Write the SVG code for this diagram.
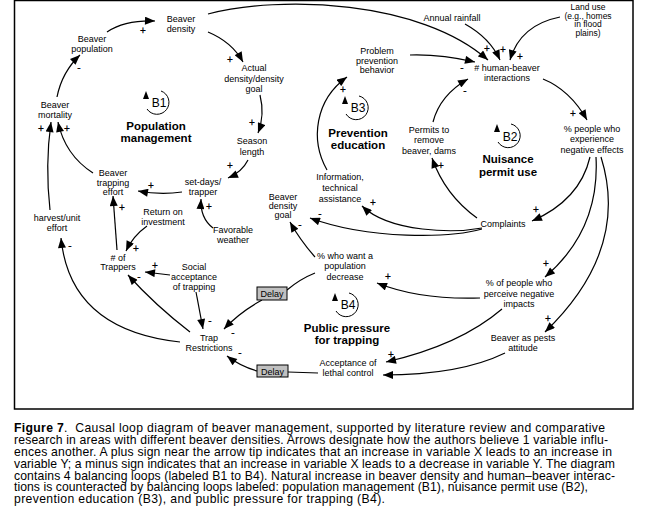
<svg xmlns="http://www.w3.org/2000/svg" width="663" height="526" viewBox="0 0 663 526">
<style>
text{font-family:"Liberation Sans",Arial,sans-serif;fill:#000}
.n{font-size:9px;text-anchor:middle}
.n8{font-size:8.5px;text-anchor:middle}
.s{font-size:10px;text-anchor:middle;stroke:#000;stroke-width:0.25}
.lp{font-size:11.5px;font-weight:bold;text-anchor:middle}
.b{font-size:12px;text-anchor:middle}
.cap{font-size:12.2px}
.c{fill:none;stroke:#000;stroke-width:1.2}
.lc{fill:none;stroke:#000;stroke-width:1}
.dl{fill:#c0c0c0;stroke:#000;stroke-width:1}
</style>
<defs>
<marker id="ah" viewBox="0 0 10 8" refX="10" refY="4" markerWidth="11" markerHeight="8" orient="auto" markerUnits="userSpaceOnUse">
<path d="M0,0 L10,4 L0,8 z" fill="#000"/>
</marker>
</defs>
<rect width="663" height="526" fill="#fff"/>
<rect x="14.5" y="0.5" width="618.5" height="408.5" fill="none" stroke="#000" stroke-width="1.5"/>

<g id="connectors">
<path class="c" marker-end="url(#ah)" d="M107,32 Q125,20 155,21"/>
<path class="c" marker-end="url(#ah)" d="M57,97 Q62,72 80,55"/>
<path class="c" marker-end="url(#ah)" d="M208,32 Q232,42 243,62"/>
<path class="c" marker-end="url(#ah)" d="M260,95 Q265,115 258,133"/>
<path class="c" marker-end="url(#ah)" d="M248,160 Q242,172 228,178"/>
<path class="c" marker-end="url(#ah)" d="M182,192 Q160,195 138,191"/>
<path class="c" marker-end="url(#ah)" d="M93,173 Q65,155 58,122"/>
<path class="c" marker-end="url(#ah)" d="M50,210 Q45,165 51,122"/>
<path class="c" marker-end="url(#ah)" d="M180,342 Q70,330 61,238"/>
<path class="c" marker-end="url(#ah)" d="M117,250 L113,196"/>
<path class="c" marker-end="url(#ah)" d="M147,226 Q133,236 126,251"/>
<path class="c" marker-end="url(#ah)" d="M213,228 Q200,218 201,199"/>
<path class="c" marker-end="url(#ah)" d="M170,275 L145,272"/>
<path class="c" marker-end="url(#ah)" d="M196,292 L203,329"/>
<path class="c" marker-end="url(#ah)" d="M190,332 Q155,305 128,275"/>
<path class="c" d="M315,273 Q300,279 287,290"/>
<path class="c" marker-end="url(#ah)" d="M262,300 Q240,312 224,329"/>
<path class="c" d="M318,373 L288,372"/>
<path class="c" marker-end="url(#ah)" d="M257,371 Q240,366 227,356"/>
<path class="c" marker-end="url(#ah)" d="M315,257 Q300,240 290,222"/>
<path class="c" marker-end="url(#ah)" d="M482,229 C450,238 370,240 310,218"/>
<path class="c" marker-end="url(#ah)" d="M482,228 C455,233 390,233 362,206"/>
<path class="c" marker-end="url(#ah)" d="M477,218 Q445,195 432,158"/>
<path class="c" marker-end="url(#ah)" d="M433,122 Q440,95 468,79"/>
<path class="c" marker-end="url(#ah)" d="M327,170 C310,140 315,100 347,77"/>
<path class="c" marker-end="url(#ah)" d="M410,55 Q440,54 475,62"/>
<path class="c" marker-end="url(#ah)" d="M465,24 Q490,38 500,60"/>
<path class="c" marker-end="url(#ah)" d="M560,17 Q520,25 510,60"/>
<path class="c" marker-end="url(#ah)" d="M208,14 C280,-5 420,0 488,60"/>
<path class="c" marker-end="url(#ah)" d="M543,79 Q570,90 587,120"/>
<path class="c" marker-end="url(#ah)" d="M590,157 Q580,200 532,221"/>
<path class="c" marker-end="url(#ah)" d="M596,157 Q600,230 545,277"/>
<path class="c" marker-end="url(#ah)" d="M601,157 Q630,250 545,332"/>
<path class="c" marker-end="url(#ah)" d="M480,298 Q420,300 377,283"/>
<path class="c" marker-end="url(#ah)" d="M502,309 Q460,345 386,362"/>
<path class="c" marker-end="url(#ah)" d="M505,353 Q460,375 383,375"/>
</g>

<g id="polarities">
<text class="s" x="143" y="34">+</text>
<text class="s" x="79" y="71">-</text>
<text class="s" x="230" y="63">+</text>
<text class="s" x="252" y="126">+</text>
<text class="s" x="230" y="169">+</text>
<text class="s" x="151" y="189">+</text>
<text class="s" x="67" y="132">+</text>
<text class="s" x="41" y="132">+</text>
<text class="s" x="70" y="249">-</text>
<text class="s" x="122" y="211">+</text>
<text class="s" x="136" y="252">+</text>
<text class="s" x="209" y="210">+</text>
<text class="s" x="155" y="269">+</text>
<text class="s" x="210" y="324">-</text>
<text class="s" x="139" y="280">-</text>
<text class="s" x="233" y="336">-</text>
<text class="s" x="240" y="356">-</text>
<text class="s" x="300" y="228">-</text>
<text class="s" x="320" y="217">-</text>
<text class="s" x="373" y="206">+</text>
<text class="s" x="441" y="169">+</text>
<text class="s" x="465" y="94">-</text>
<text class="s" x="343" y="93">+</text>
<text class="s" x="462" y="71">-</text>
<text class="s" x="503" y="53">+</text>
<text class="s" x="520" y="60">+</text>
<text class="s" x="487" y="52">+</text>
<text class="s" x="573" y="117">+</text>
<text class="s" x="536" y="213">+</text>
<text class="s" x="546" y="267">+</text>
<text class="s" x="548" y="322">+</text>
<text class="s" x="388" y="280">+</text>
<text class="s" x="391" y="358">+</text>
</g>

<g id="loop-b1">
<path class="lc" d="M147,109 A12,12 0 1 0 161,91"/>
<polygon points="146,91 143,99 149,99" fill="#000"/>
<text class="b" x="159" y="107">B1</text>
<text class="lp" x="156" y="130">Population</text>
<text class="lp" x="156" y="142">management</text>
</g>
<g id="loop-b2">
<path class="lc" d="M498,142 A12,12 0 1 0 511,124"/>
<polygon points="497,124 494,132 500,132" fill="#000"/>
<text class="b" x="510" y="141">B2</text>
<text class="lp" x="508" y="163">Nuisance</text>
<text class="lp" x="508" y="176">permit use</text>
</g>
<g id="loop-b3">
<path class="lc" d="M346,114 A12,12 0 1 0 359,96"/>
<polygon points="345,96 342,104 348,104" fill="#000"/>
<text class="b" x="358" y="112">B3</text>
<text class="lp" x="358" y="137">Prevention</text>
<text class="lp" x="358" y="149">education</text>
</g>
<g id="loop-b4">
<path class="lc" d="M336,311 A12,12 0 1 0 349,293"/>
<polygon points="335,293 332,301 338,301" fill="#000"/>
<text class="b" x="348" y="309">B4</text>
<text class="lp" x="347" y="332">Public pressure</text>
<text class="lp" x="347" y="344">for trapping</text>
</g>

<g id="beaver-density"><text class="n" x="181" y="22">Beaver</text><text class="n" x="181" y="32">density</text></g>
<g id="beaver-population"><text class="n" x="92" y="42">Beaver</text><text class="n" x="92" y="52">population</text></g>
<g id="beaver-mortality"><text class="n" x="55" y="108">Beaver</text><text class="n" x="55" y="118">mortality</text></g>
<g id="actual-density"><text class="n" x="254" y="71">Actual</text><text class="n" x="254" y="82">density/density</text><text class="n" x="254" y="92">goal</text></g>
<g id="season-length"><text class="n" x="252" y="144">Season</text><text class="n" x="252" y="155">length</text></g>
<g id="set-days"><text class="n" x="203" y="185">set-days/</text><text class="n" x="203" y="195">trapper</text></g>
<g id="trapping-effort"><text class="n" x="113" y="176">Beaver</text><text class="n" x="113" y="185.5">trapping</text><text class="n" x="113" y="195">effort</text></g>
<g id="harvest"><text class="n" x="57" y="221">harvest/unit</text><text class="n" x="57" y="231">effort</text></g>
<g id="return"><text class="n" x="163" y="215">Return on</text><text class="n" x="163" y="225">investment</text></g>
<g id="weather"><text class="n" x="233" y="233">Favorable</text><text class="n" x="233" y="243">weather</text></g>
<g id="trappers"><text class="n" x="118" y="261">#  of</text><text class="n" x="118" y="270">Trappers</text></g>
<g id="social"><text class="n" x="194" y="270">Social</text><text class="n" x="194" y="280">acceptance</text><text class="n" x="194" y="290">of trapping</text></g>
<g id="trap-restrictions"><text class="n" x="209" y="341">Trap</text><text class="n" x="209" y="351">Restrictions</text></g>
<g id="density-goal"><text class="n" x="283" y="200">Beaver</text><text class="n" x="283" y="209">density</text><text class="n" x="283" y="218">goal</text></g>
<g id="information"><text class="n" x="340" y="180">Information,</text><text class="n" x="340" y="191">technical</text><text class="n" x="340" y="202">assistance</text></g>
<g id="who-want"><text class="n" x="345" y="259">% who want a</text><text class="n" x="345" y="269">population</text><text class="n" x="345" y="280">decrease</text></g>
<g id="acceptance"><text class="n" x="348" y="366">Acceptance of</text><text class="n" x="348" y="376">lethal control</text></g>
<g id="delay1"><rect class="dl" x="257" y="287" width="30" height="13"/><text class="n" x="272" y="297">Delay</text></g>
<g id="delay2"><rect class="dl" x="257" y="365" width="31" height="12"/><text class="n" x="272.5" y="374.5">Delay</text></g>
<g id="problem-prevention"><text class="n" x="377" y="54">Problem</text><text class="n" x="377" y="64">prevention</text><text class="n" x="377" y="73">behavior</text></g>
<g id="rainfall"><text class="n" x="452" y="21">Annual rainfall</text></g>
<g id="land-use"><text class="n8" x="588" y="9.5">Land use</text><text class="n8" x="588" y="18.5">(e.g., homes</text><text class="n8" x="588" y="27">in flood</text><text class="n8" x="588" y="35.5">plains)</text></g>
<g id="interactions"><text class="n" x="507" y="71"># human-beaver</text><text class="n" x="507" y="81">interactions</text></g>
<g id="permits"><text class="n" x="429" y="133">Permits to</text><text class="n" x="429" y="143">remove</text><text class="n" x="429" y="154">beaver, dams</text></g>
<g id="experience"><text class="n" x="592" y="132">% people who</text><text class="n" x="592" y="142">experience</text><text class="n" x="592" y="153">negative effects</text></g>
<g id="complaints"><text class="n" x="503" y="227">Complaints</text></g>
<g id="perceive"><text class="n" x="519" y="286">% of people who</text><text class="n" x="519" y="297">perceive negative</text><text class="n" x="519" y="307">impacts</text></g>
<g id="pests"><text class="n" x="523" y="341">Beaver as pests</text><text class="n" x="523" y="351">attitude</text></g>

<g id="caption">
<text class="cap" x="14" y="432" textLength="591" lengthAdjust="spacing"><tspan font-weight="bold">Figure 7</tspan>.&#160; Causal loop diagram of beaver management, supported by literature review and comparative</text>
<text class="cap" x="14" y="444" textLength="594" lengthAdjust="spacing">research in areas with different beaver densities. Arrows designate how the authors believe 1 variable influ-</text>
<text class="cap" x="14" y="456" textLength="598" lengthAdjust="spacing">ences another. A plus sign near the arrow tip indicates that an increase in variable X leads to an increase in</text>
<text class="cap" x="14" y="467.5" textLength="601" lengthAdjust="spacing">variable Y; a minus sign indicates that an increase in variable X leads to a decrease in variable Y. The diagram</text>
<text class="cap" x="14" y="479.5" textLength="601" lengthAdjust="spacing">contains 4 balancing loops (labeled B1 to B4). Natural increase in beaver density and human–beaver interac-</text>
<text class="cap" x="14" y="491" textLength="574" lengthAdjust="spacing">tions is counteracted by balancing loops labeled: population management (B1), nuisance permit use (B2),</text>
<text class="cap" x="14" y="503" textLength="371" lengthAdjust="spacing">prevention education (B3), and public pressure for trapping (B4).</text>
</g>
</svg>
